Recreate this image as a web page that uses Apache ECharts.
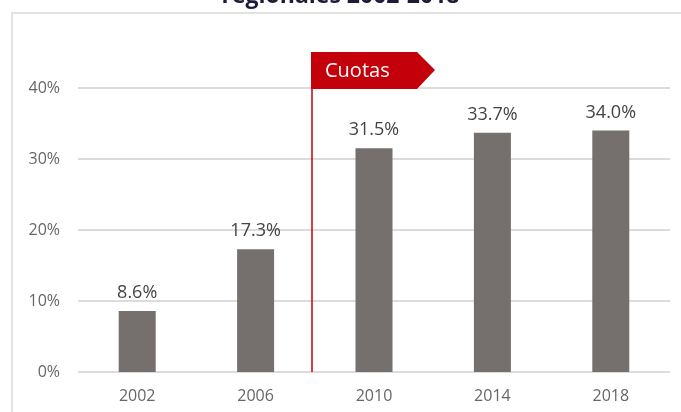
<!DOCTYPE html>
<html>
<head>
<meta charset="utf-8">
<script src="https://cdn.jsdelivr.net/npm/echarts@6/dist/echarts.min.js"></script>
<style>
  html, body { margin: 0; padding: 0; background: #fff; }
  #main { width: 681px; height: 412px; }
</style>
</head>
<body>
<div id="main"></div>
<script>
// datos
var years = ['2002', '2006', '2010', '2014', '2018'];
var cuotaMujeres = [8.6, 17.3, 31.5, 33.7, 34.0];
var yTicks = [0, 10, 20, 30, 40];

var chart = echarts.init(document.getElementById('main'));

var option = {
    animation: false,
    title: {
        text: 'regionales 2002-2018',
        left: 'center',
        top: -20,
        textStyle: {
            fontFamily: 'Open Sans',
            fontSize: 23,
            fontWeight: 'bold',
            color: '#1c1b3a'
        }
    },
    grid: {
        left: 78,
        right: 11,
        top: 88,
        bottom: 40
    },
    xAxis: {
        type: 'category',
        data: years,
        axisLine: { show: false },
        axisTick: { show: false },
        axisLabel: {
            margin: 16,
            fontFamily: 'Open Sans',
            fontSize: 16,
            color: '#666'
        }
    },
    yAxis: {
        type: 'value',
        min: yTicks[0],
        max: yTicks[yTicks.length - 1],
        interval: 10,
        axisLine: { show: false },
        axisTick: { show: false },
        axisLabel: {
            margin: 18,
            fontFamily: 'Open Sans',
            fontSize: 16,
            color: '#666',
            formatter: '{value}%'
        },
        splitLine: { lineStyle: { color: '#dcdcdc', width: 2 } }
    },
    series: [
        {
            type: 'bar',
            data: cuotaMujeres,
            barWidth: 37,
            itemStyle: { color: '#756f6e' },
            label: {
                show: true,
                position: 'top',
                distance: 9,
                fontFamily: 'Open Sans',
                fontSize: 18,
                color: '#444',
                formatter: function (p) { return p.value.toFixed(1) + '%'; }
            }
        }
    ]
};

chart.setOption(option);

// marco del panel + linea y bandera "Cuotas" entre 2006 y 2010
var p06 = chart.convertToPixel({ xAxisIndex: 0 }, '2006');
var p10 = chart.convertToPixel({ xAxisIndex: 0 }, '2010');
var lineX = Math.round((p06 + p10) / 2) - 3;
var y0 = chart.convertToPixel({ yAxisIndex: 0 }, 0);
var y40 = chart.convertToPixel({ yAxisIndex: 0 }, 40);
var flagTop = y40 - 36;

chart.setOption({
    graphic: [
        {
            type: 'polyline',
            shape: { points: [[12, 412], [12, 13], [681, 13]] },
            style: { stroke: '#e2e2e2', lineWidth: 2, fill: null },
            silent: true
        },
        {
            type: 'line',
            shape: { x1: lineX, y1: flagTop, x2: lineX, y2: y0 },
            style: { stroke: '#c4000a', lineWidth: 1.5 },
            silent: true
        },
        {
            type: 'polygon',
            shape: {
                points: [
                    [lineX - 1, flagTop],
                    [lineX + 105, flagTop],
                    [lineX + 123, flagTop + 18],
                    [lineX + 105, flagTop + 37],
                    [lineX - 1, flagTop + 37]
                ]
            },
            style: { fill: '#c4000a' },
            silent: true
        },
        {
            type: 'text',
            x: lineX + 13,
            y: flagTop + 19,
            style: {
                text: 'Cuotas',
                fill: '#fff',
                font: '20px "Open Sans"',
                verticalAlign: 'middle'
            },
            silent: true
        }
    ]
});
</script>
</body>
</html>
